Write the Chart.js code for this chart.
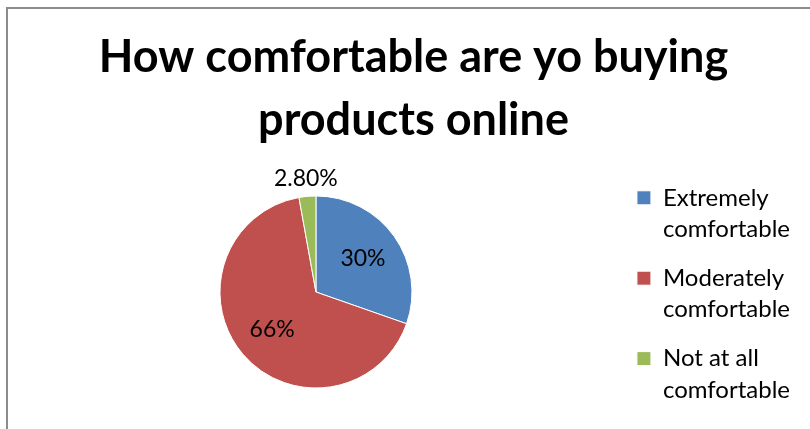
<!DOCTYPE html>
<html>
<head>
<meta charset="utf-8">
<script src="https://cdn.jsdelivr.net/npm/chart.js@4"></script>
<style>
  html, body { margin: 0; padding: 0; background: #fff; overflow: hidden; }
  #frame { position: absolute; left: 6px; top: 7px; width: 900px; height: 500px; border: 2px solid #8c8c8c; }
  #pieChart { position: absolute; left: 0; top: 0; }
</style>
</head>
<body>
<div id="frame"></div>
<canvas id="pieChart" width="810" height="429"></canvas>
<script>
// === data ===
const categories = [['Extremely', 'comfortable'], ['Moderately', 'comfortable'], ['Not at all', 'comfortable']];
const shares = [30, 66, 2.8];
const sliceColors = ['#4F81BD', '#C0504D', '#9BBB59'];
const titleLines = ['How comfortable are yo buying', 'products online'];

const fmtPct = v => (Number.isInteger(v) ? v : v.toFixed(2)) + '%';

Chart.defaults.font.family = 'Lato';
Chart.defaults.color = '#000';

// percentage labels: inside for big slices, just outside for thin ones
const sliceLabels = {
  id: 'sliceLabels',
  afterDatasetsDraw(chart) {
    const ctx = chart.ctx;
    const meta = chart.getDatasetMeta(0);
    ctx.save();
    ctx.font = '23px Lato';
    ctx.fillStyle = '#000';
    ctx.textAlign = 'center';
    ctx.textBaseline = 'middle';
    meta.data.forEach((arc, i) => {
      const {x, y, startAngle, endAngle, outerRadius} = arc.getProps(['x', 'y', 'startAngle', 'endAngle', 'outerRadius'], true);
      const mid = (startAngle + endAngle) / 2;
      const thin = (endAngle - startAngle) < 0.3;
      const r = thin ? outerRadius + 18 : outerRadius * 0.6;
      ctx.fillText(fmtPct(shares[i]), x + Math.cos(mid) * r, y + Math.sin(mid) * r);
    });
    ctx.restore();
  }
};

// give the legend some extra room on its right so the pie sits further left
const legendRoom = {
  id: 'legendRoom',
  beforeInit(chart) {
    const fit = chart.legend.fit;
    chart.legend.fit = function () {
      fit.call(this);
      this.width += 14;
    };
  }
};

new Chart(document.getElementById('pieChart'), {
  type: 'pie',
  data: {
    labels: categories,
    datasets: [{
      data: shares,
      backgroundColor: sliceColors,
      borderColor: '#fff',
      borderWidth: 1
    }]
  },
  options: {
    responsive: false,
    animation: false,
    radius: 96,
    layout: { padding: { left: 13, right: -4, top: 0, bottom: 2 } },
    plugins: {
      title: {
        display: true,
        text: titleLines,
        color: '#000',
        font: { size: 45, weight: 'bold', lineHeight: 1.4 },
        padding: { top: 26, bottom: 5 }
      },
      legend: {
        position: 'right',
        align: 'end',
        labels: {
          color: '#000',
          font: { size: 24, lineHeight: 1.3 },
          boxWidth: 14,
          boxHeight: 14,
          padding: 18
        }
      },
      tooltip: { enabled: false }
    }
  },
  plugins: [sliceLabels, legendRoom]
});
</script>
</body>
</html>
